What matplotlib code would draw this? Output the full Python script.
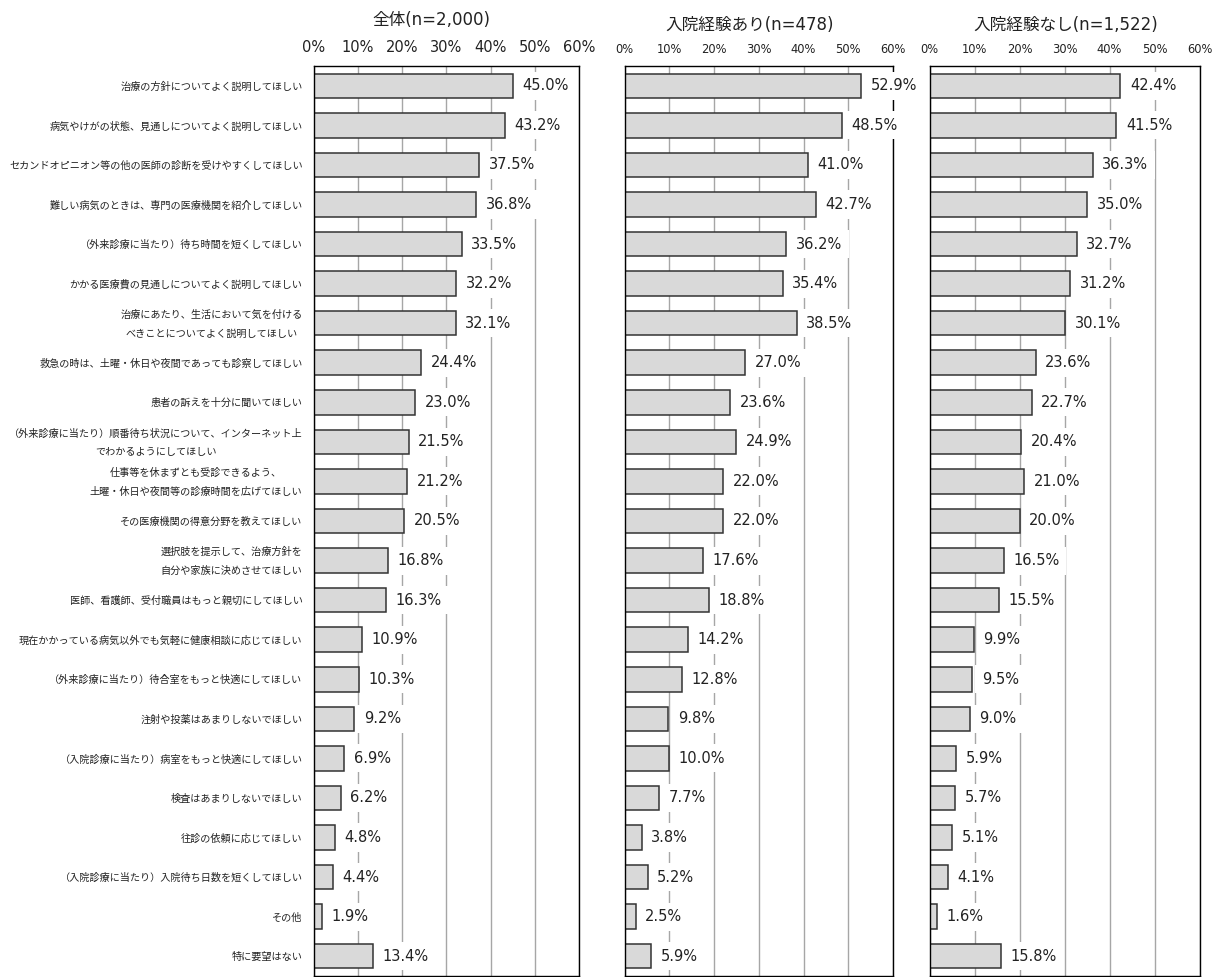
import matplotlib
matplotlib.use("Agg")
import matplotlib.pyplot as plt

plt.rcParams['font.family'] = ['Noto Sans CJK JP', 'DejaVu Sans']

categories = [
    "治療の方針についてよく説明してほしい",
    "病気やけがの状態、見通しについてよく説明してほしい",
    "セカンドオピニオン等の他の医師の診断を受けやすくしてほしい",
    "難しい病気のときは、専門の医療機関を紹介してほしい",
    "（外来診療に当たり）待ち時間を短くしてほしい",
    "かかる医療費の見通しについてよく説明してほしい",
    "治療にあたり、生活において気を付ける\nべきことについてよく説明してほしい",
    "救急の時は、土曜・休日や夜間であっても診察してほしい",
    "患者の訴えを十分に聞いてほしい",
    "（外来診療に当たり）順番待ち状況について、インターネット上\nでわかるようにしてほしい",
    "仕事等を休まずとも受診できるよう、\n土曜・休日や夜間等の診療時間を広げてほしい",
    "その医療機関の得意分野を教えてほしい",
    "選択肢を提示して、治療方針を\n自分や家族に決めさせてほしい",
    "医師、看護師、受付職員はもっと親切にしてほしい",
    "現在かかっている病気以外でも気軽に健康相談に応じてほしい",
    "（外来診療に当たり）待合室をもっと快適にしてほしい",
    "注射や投薬はあまりしないでほしい",
    "（入院診療に当たり）病室をもっと快適にしてほしい",
    "検査はあまりしないでほしい",
    "往診の依頼に応じてほしい",
    "（入院診療に当たり）入院待ち日数を短くしてほしい",
    "その他",
    "特に要望はない",
]

total_vals = [45.0, 43.2, 37.5, 36.8, 33.5, 32.2, 32.1, 24.4, 23.0, 21.5, 21.2, 20.5,
              16.8, 16.3, 10.9, 10.3, 9.2, 6.9, 6.2, 4.8, 4.4, 1.9, 13.4]
inpatient_vals = [52.9, 48.5, 41.0, 42.7, 36.2, 35.4, 38.5, 27.0, 23.6, 24.9, 22.0, 22.0,
                  17.6, 18.8, 14.2, 12.8, 9.8, 10.0, 7.7, 3.8, 5.2, 2.5, 5.9]
no_inpatient_vals = [42.4, 41.5, 36.3, 35.0, 32.7, 31.2, 30.1, 23.6, 22.7, 20.4, 21.0, 20.0,
                     16.5, 15.5, 9.9, 9.5, 9.0, 5.9, 5.7, 5.1, 4.1, 1.6, 15.8]

titles = ["全体(n=2,000)", "入院経験あり(n=478)", "入院経験なし(n=1,522)"]
xticks = [0, 10, 20, 30, 40, 50, 60]
xtick_labels = ["0%", "10%", "20%", "30%", "40%", "50%", "60%"]

W, H = 1221, 977
fig = plt.figure(figsize=(W / 100, H / 100), dpi=100)

# (left px, right px, values, tick fontsize, tick pad, title center x px, title center y px)
panels = [
    (313.5, 579.0, total_vals, 10.5, 8.0, 431, 20),
    (624.5, 893.0, inpatient_vals, 8.3, 7.0, 750, 25),
    (929.5, 1199.6, no_inpatient_vals, 8.3, 7.0, 1066, 25),
]
top_px, bottom_px = 66, 976
latin_first = ['DejaVu Sans', 'Noto Sans CJK JP']

for i, (x0, x1, vals, tfs, tpad, tx, ty) in enumerate(panels):
    ax = fig.add_axes([x0 / W, 1 - bottom_px / H, (x1 - x0) / W, (bottom_px - top_px) / H])
    y = list(range(len(categories)))
    ax.barh(y, vals, height=0.62, color="#d9d9d9", edgecolor="#333333", linewidth=1.1, zorder=2)
    ax.set_xlim(0, 60)
    ax.set_ylim(len(categories) - 0.5, -0.5)
    ax.set_xticks(xticks)
    ax.set_xticklabels(xtick_labels, fontsize=tfs, fontfamily="DejaVu Sans", color="#222222")
    ax.xaxis.tick_top()
    ax.tick_params(axis="x", length=0, pad=tpad)
    ax.grid(axis="x", color="#a6a6a6", linewidth=1.0, zorder=0)
    ax.set_axisbelow(True)
    for s in ax.spines.values():
        s.set_color("#000000")
        s.set_linewidth(1.0)
    ax.set_yticks([])
    if i == 0:
        for yi, cat in zip(y, categories):
            ax.annotate(cat, xy=(0, yi), xytext=(-11, -1), textcoords="offset pixels",
                        ha="right", va="center", multialignment="center", linespacing=2.1,
                        fontsize=7.3, color="#222222", annotation_clip=False)
    for yi, v in zip(y, vals):
        ax.annotate(f"{v:.1f}%", xy=(v, yi), xytext=(9.5, 0), textcoords="offset pixels",
                    ha="left", va="center", fontsize=10.5, fontfamily="DejaVu Sans",
                    color="#222222", annotation_clip=False, zorder=4,
                    bbox=dict(boxstyle="square,pad=0.45", fc="white", ec="none"))
    fig.text(tx / W, 1 - ty / H, titles[i], ha="center", va="center",
             fontsize=12, fontfamily=latin_first, color="#222222")

fig.savefig("out.png", dpi=100)
